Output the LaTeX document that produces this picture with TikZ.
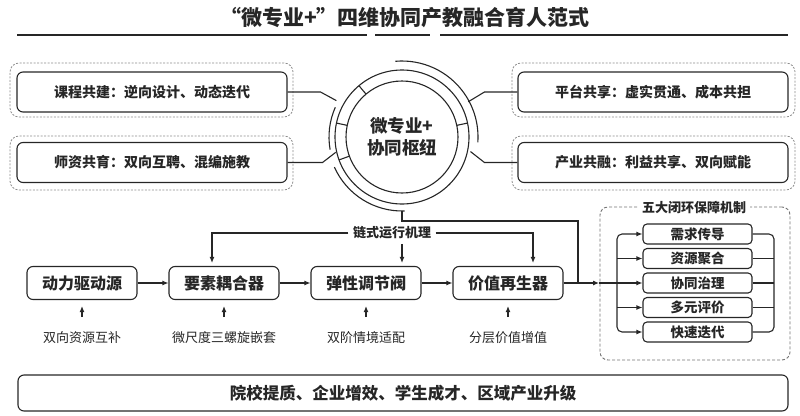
\documentclass[tikz,border=0pt]{standalone}
\usepackage{fontspec}
\setmainfont{Noto Sans CJK SC}
\usetikzlibrary{arrows.meta}

\begin{document}
\begin{tikzpicture}[x=1pt, y=1pt, line width=1.1pt, color=black!85,
    hd/.style={font=\bfseries\fontsize{21}{24}\selectfont},
    share/.style={draw, rounded corners=6pt, minimum width=270pt, minimum height=40pt, font=\bfseries\fontsize{14}{16}\selectfont},
    halo/.style={draw=black!45, line width=0.8pt, dash pattern=on 2pt off 1.5pt, rounded corners=9pt, minimum width=283pt, minimum height=54pt},
    stage/.style={draw, rounded corners=6pt, minimum width=110pt, minimum height=33pt, font=\bfseries\fontsize{16}{18}\selectfont},
    feed/.style={font=\fontsize{13}{15}\selectfont},
    loopbox/.style={draw, rounded corners=4pt, minimum width=109pt, minimum height=20pt, inner sep=0pt, font=\bfseries\fontsize{13.5}{15}\selectfont},
    tag/.style={fill=white, inner sep=4pt, font=\bfseries\fontsize{13}{15}\selectfont},
    arr/.style={-{Latex[length=6pt,width=5pt]}}]
      \useasboundingbox (0,0) rectangle (800,-415);
      \node[hd] (title) at (405,-17) {“微专业+”四维协同产教融合育人范式};
      \draw[line width=1.4pt] (17,-35) -- (367,-35) (375,-35) -- (430,-35) (440,-35) -- (788,-35);
      \node[halo] (kcH) at (151.5,-90) {};
      \node[share] (kc) at (152,-92) {课程共建：逆向设计、动态迭代};
      \node[halo] (szH) at (151.5,-163) {};
      \node[share] (sz) at (152,-162.5) {师资共育：双向互聘、混编施教};
      \node[halo] (ptH) at (653.5,-90) {};
      \node[share] (pt) at (653,-92) {平台共享：虚实贯通、成本共担};
      \node[halo] (cyH) at (653.5,-163) {};
      \node[share] (cy) at (653,-162.5) {产业共融：利益共享、双向赋能};
      \node[circle, draw, minimum size=112pt, inner sep=0pt, align=center, font=\bfseries\fontsize{17.5}{22}\selectfont] (hub) at (402,-137) {微专业+\\协同枢纽};
      \draw (hub.center) circle (67);
      \foreach \a in {12,130,168,200}
        \draw ([shift={(\a:56)}]hub.center) -- ([shift={(\a:67)}]hub.center);
      \draw ([shift={(95:76)}]hub.center) arc[start angle=95, end angle=-4, radius=76];
      \draw ([shift={(156:73)}]hub.center) arc[start angle=156, end angle=190, radius=73];
      \draw ([shift={(204:74)}]hub.center) arc[start angle=204, end angle=272, radius=74];
      \foreach \b/\s/\dx/\a/\r in {kc/east/33/151/75, sz/east/35/193/68, pt/west/-33/28/75, cy/west/-33/-12/70}
        \draw (\b.\s) -- ++(\dx,0) -- ([shift={(\a:\r)}]hub.center);
      \node[stage] (drv) at (82,-283) {动力驱动源};
      \node[stage] (cpl) at (224,-283) {要素耦合器};
      \node[stage] (reg) at (366,-283) {弹性调节阀};
      \node[stage] (rgn) at (508,-283) {价值再生器};
      \foreach \s/\d in {drv/cpl, cpl/reg, reg/rgn}
        \draw[arr] (\s) -- (\d);
      \node[feed] (fd1) at (82,-338) {双向资源互补};
      \node[feed] (fd2) at (224,-338) {微尺度三螺旋嵌套};
      \node[feed] (fd3) at (366,-338) {双阶情境适配};
      \node[feed] (fd4) at (508,-338) {分层价值增值};
      \foreach \f/\s in {fd1/drv, fd2/cpl, fd3/reg, fd4/rgn}
        \draw[arr, shorten <=11pt, shorten >=6pt] (\f.north) -- (\s.south);
      \node[tag] (mech) at (392,-233) {链式运行机理};
      \draw[arr, shorten >=3pt] (mech.west) -| ([xshift=-12pt]cpl.north);
      \draw[arr, shorten >=3pt] (mech.east) -| ([xshift=25pt]rgn.north);
      \draw[arr, shorten >=3pt] ([xshift=10pt]mech.south) -- ([xshift=10pt]mech.south |- reg.north);
      \node[draw=black!55, line width=0.9pt, dash pattern=on 3pt off 2pt, rounded corners=8pt, minimum width=190pt, minimum height=153pt] (ring) at (695,-283.5) {};
      \node[tag] (five) at (694,-207) {五大闭环保障机制};
      \node[loopbox] (need) at (697.5,-234) {需求传导};
      \node[loopbox] (pool) at (697.5,-258.5) {资源聚合};
      \node[loopbox] (govn) at (697.5,-283) {协同治理};
      \node[loopbox] (eval) at (697.5,-307.5) {多元评价};
      \node[loopbox] (iter) at (697.5,-332) {快速迭代};
      \coordinate (jn) at (578,-283);
      \coordinate (gate) at (599,-283);
      \coordinate (fork) at (617,-283);
      \coordinate (back) at (774,-283);
      \draw ([shift={(270:74)}]hub.center) -- ++(0,-10) -| (jn);
      \draw[arr] (rgn.east) -- (gate);
      \draw[arr] (gate) -- (govn.west);
      \draw[arr, rounded corners=5pt] (fork) |- (need.west);
      \draw[arr, rounded corners=5pt] (fork) |- (iter.west);
      \foreach \b in {pool, eval}
        \draw[arr] (fork |- \b.west) -- (\b.west);
      \draw[rounded corners=5pt] (need.east) -| (back) |- (iter.east);
      \foreach \b in {pool, govn, eval}
        \draw (\b.east) -- (back |- \b.east);
      \node[draw, rounded corners=6pt, minimum width=770pt, minimum height=36pt, font=\bfseries\fontsize{16.5}{18}\selectfont] (goal) at (403,-393) {院校提质、企业增效、学生成才、区域产业升级};
    \end{tikzpicture}
\end{document}
